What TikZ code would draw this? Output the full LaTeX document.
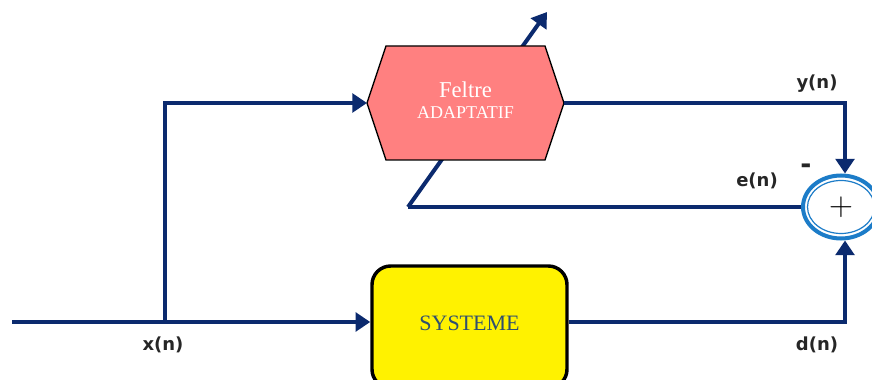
\documentclass[tikz,border=0pt]{standalone}
\usepackage{fontspec}
\setmainfont{Liberation Serif}
\newfontfamily\labelfont{DejaVu Sans}
\usetikzlibrary{arrows.meta,shapes.geometric}

\definecolor{navy}{HTML}{0B2A6E}
\definecolor{salmon}{HTML}{FF8080}
\definecolor{sumblue}{HTML}{1C7CC8}
\definecolor{systext}{HTML}{2F4F6F}

\tikzset{
    signal/.style={draw=navy, line width=3pt, -{Triangle[length=11pt,width=14pt]}},
    wire/.style={draw=navy, line width=3pt},
    lbl/.style={font=\labelfont\bfseries\fontsize{13.5}{15}\selectfont, text=black!85},
}

\begin{document}
\begin{tikzpicture}[x=0.75pt,y=0.75pt]
    \useasboundingbox (0,0) rectangle (872,379);

    % system
    \node[draw, fill=yellow, line width=2.6pt, rounded corners=14pt, minimum width=195*0.75pt,
          minimum height=122*0.75pt, text=systext, font=\fontsize{16.5}{19}\selectfont]
          (systeme) at (469.5,52) {\raisebox{5pt}{SYSTEME}};

    % summer
    \node[ellipse, draw=sumblue, line width=3pt, fill=white, minimum width=76*0.75pt,
          minimum height=63*0.75pt, font=\fontsize{24}{26}\selectfont] (sum) at (841,172) {$+$};
    \draw[sumblue, line width=0.9pt] (sum.center) ellipse (33.5 and 26.5);

    % feedback line, crosses the filter
    \coordinate (fbcorner) at (408,172);
    \coordinate (fbtip) at (547,367);
    \draw[wire] (sum.west) -- (fbcorner);
    \draw[signal] (fbcorner) -- (fbtip);

    % adaptive filter
    \coordinate (filtre-in) at (367,276);
    \coordinate (filtre-out) at (564,276);
    \draw[fill=salmon, line width=1pt] (filtre-in) -- (386,333) -- (545,333) -- (filtre-out)
        -- (545,219) -- (386,219) -- cycle;
    \node[text=white, font=\fontsize{17}{20}\selectfont] (filtre) at (465.5,289) {Feltre};
    \node[text=white, font=\fontsize{13.5}{16}\selectfont] (adapt) at (465.5,266) {ADAPTATIF};

    \coordinate (xin) at (12,57);
    \coordinate (branch) at (165,57);
    \coordinate (ycorner) at (845,276);
    \coordinate (dcorner) at (845,57);

    \draw[wire] (xin) -- (branch);
    \draw[signal] (branch) -- (systeme.west |- branch);
    \draw[signal] (branch) |- (filtre-in);
    \draw[signal] (filtre-out) -- (ycorner) -- (ycorner |- sum.north);
    \draw[signal] (systeme.east |- dcorner) -- (dcorner) -- (dcorner |- sum.south);

    \node[lbl] (xlab) at (163,34) {x(n)};
    \node[lbl] (dlab) at (817,34) {d(n)};
    \node[lbl] (ylab) at (817,295) {y(n)};
    \node[lbl] (elab) at (757,198) {e(n)};
    \node[lbl, font=\labelfont\bfseries\fontsize{20}{22}\selectfont] (minus) at (806,210) {-};
\end{tikzpicture}
\end{document}
